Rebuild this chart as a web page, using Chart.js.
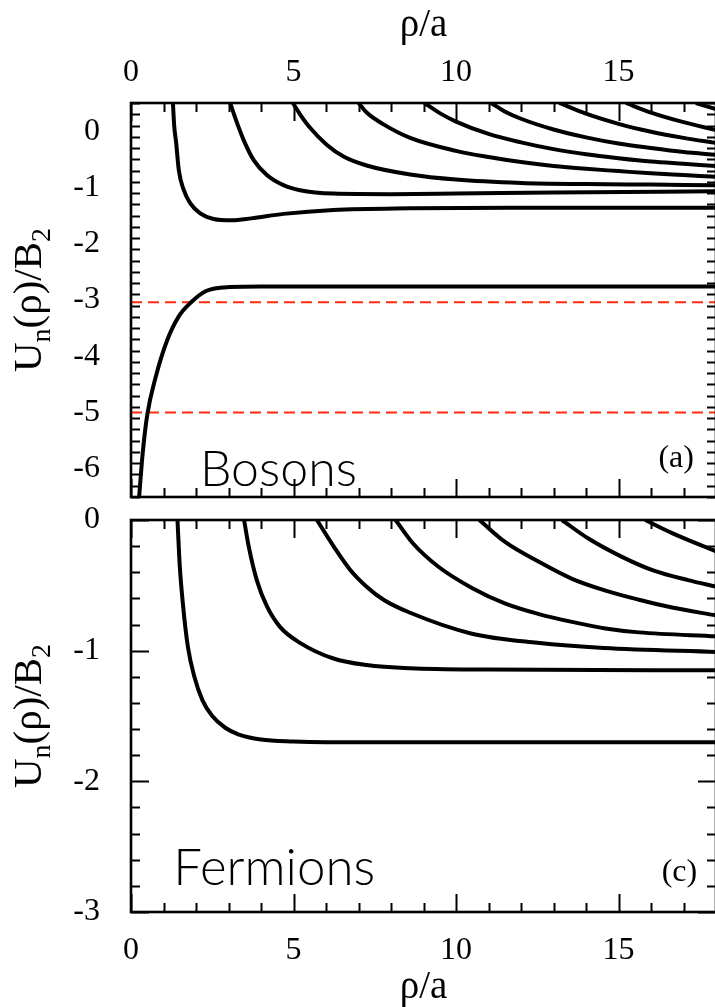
<!DOCTYPE html>
<html>
<head>
<meta charset="utf-8">
<script src="https://cdn.jsdelivr.net/npm/chart.js@4.4.0/dist/chart.umd.min.js"></script>
<style>
  html, body { margin: 0; padding: 0; background: #fff; overflow: hidden; width: 715px; height: 1007px; }
  #bosons { position: absolute; left: 0; top: 0; }
  #fermions { position: absolute; left: 0; top: 500px; }
</style>
</head>
<body>
<canvas id="bosons" width="720" height="520"></canvas>
<canvas id="fermions" width="720" height="507"></canvas>
<script>
// tick labels
var xTicks = [0, 5, 10, 15];
var bosonYTicks = [0, -1, -2, -3, -4, -5, -6];
var fermionYTicks = [0, -1, -2, -3];

// red dashed levels (bosons panel)
var bosonLevels = [-3.04, -5.0];

// bosons, [rho/a, U/B2]
var boson1 = [[0.25,-6.5],[0.36,-5.72],[0.5,-5.04],[0.75,-4.39],[1.11,-3.72],[1.47,-3.29],[1.85,-3.04],[2.31,-2.84],[3.03,-2.77],[4,-2.76],[18,-2.76]];
var boson2 = [[1.29,0.5],[1.33,0.09],[1.39,-0.21],[1.47,-0.69],[1.62,-1.04],[1.82,-1.28],[2.13,-1.46],[2.54,-1.56],[3.1,-1.585],[3.7,-1.55],[4.69,-1.47],[6.23,-1.4],[8.59,-1.37],[12,-1.36],[18,-1.36]];
var boson3 = [[3.05,0.5],[3.26,0.15],[3.46,-0.15],[3.77,-0.51],[4.18,-0.78],[4.69,-0.96],[5.2,-1.05],[6.23,-1.11],[8,-1.12],[10,-1.11],[13,-1.09],[18,-1.07]];
var boson4 = [[4.98,0.5],[5.2,0.3],[5.51,0.06],[6.02,-0.24],[6.54,-0.45],[7.25,-0.61],[8.59,-0.77],[10,-0.86],[12,-0.92],[14,-0.94],[16,-0.95],[18,-0.96]];
var boson5 = [[7.0,0.5],[7.25,0.33],[7.77,0.12],[8.59,-0.12],[10,-0.35],[11,-0.46],[12,-0.55],[13,-0.62],[14,-0.67],[15,-0.71],[16,-0.75],[17,-0.78],[18,-0.81]];
var boson6 = [[9.03,0.5],[9.5,0.32],[10,0.17],[11,-0.05],[12,-0.2],[13,-0.32],[14,-0.41],[15,-0.48],[16,-0.54],[17,-0.58],[18,-0.62]];
var boson7 = [[11.08,0.5],[11.5,0.35],[12,0.22],[13,0.03],[14,-0.11],[15,-0.22],[16,-0.3],[17,-0.37],[18,-0.42]];
var boson8 = [[13.18,0.5],[14,0.31],[15,0.13],[16,-0.01],[17,-0.12],[18,-0.21]];
var boson9 = [[15.23,0.5],[16,0.33],[17,0.16],[18,0.02]];
var boson10 = [[17.38,0.5],[18,0.39]];

// fermions
var fermion1 = [[1.43,0],[1.5,-0.35],[1.6,-0.65],[1.75,-0.97],[1.95,-1.2],[2.2,-1.38],[2.5,-1.5],[2.9,-1.59],[3.3,-1.64],[4,-1.68],[5,-1.695],[6,-1.7],[18,-1.7]];
var fermion2 = [[3.48,0],[3.62,-0.2],[3.87,-0.46],[4.18,-0.66],[4.59,-0.82],[5.2,-0.94],[6.23,-1.06],[7.25,-1.11],[8.59,-1.135],[11,-1.145],[18,-1.15]];
var fermion3 = [[5.72,0],[6.23,-0.2],[6.74,-0.38],[7.25,-0.51],[7.77,-0.61],[8.59,-0.71],[10.49,-0.87],[12.5,-0.94],[14.55,-0.98],[18,-1.01]];
var fermion4 = [[8.14,0],[8.68,-0.18],[9.47,-0.36],[10.49,-0.52],[11.52,-0.64],[12.55,-0.72],[13.57,-0.78],[14.6,-0.83],[15.63,-0.86],[18,-0.89]];
var fermion5 = [[10.72,0],[11.52,-0.17],[12.55,-0.32],[13.57,-0.45],[14.6,-0.54],[15.63,-0.61],[16.65,-0.67],[18,-0.73]];
var fermion6 = [[13.26,0],[14.06,-0.14],[15.09,-0.28],[16.11,-0.39],[17.14,-0.46],[18,-0.51]];
var fermion7 = [[15.82,0],[16.65,-0.1],[18,-0.24]];

var bosonCurves = [boson1, boson2, boson3, boson4, boson5, boson6, boson7, boson8, boson9, boson10];
var fermionCurves = [fermion1, fermion2, fermion3, fermion4, fermion5, fermion6, fermion7];

var serif = 'Liberation Serif, Times New Roman, serif';

function curveSet(pts) {
  return {
    data: pts.map(function(p) { return {x: p[0], y: p[1]}; }),
    borderColor: '#000', borderWidth: 4, cubicInterpolationMode: 'monotone',
    pointRadius: 0, fill: false, clip: 0
  };
}
function levelSet(v) {
  return {
    data: [{x: 0, y: v}, {x: 18, y: v}],
    borderColor: '#ff2a10', borderWidth: 2, borderDash: [11, 6],
    pointRadius: 0, fill: false, clip: 0
  };
}

// frame + inward major/minor ticks on all four sides
var framePlugin = {
  id: 'frame',
  afterDatasetsDraw: function(chart) {
    var a = chart.chartArea, ctx = chart.ctx, xs = chart.scales.x, ys = chart.scales.y;
    function seg(x1, y1, x2, y2) { ctx.beginPath(); ctx.moveTo(x1, y1); ctx.lineTo(x2, y2); ctx.stroke(); }
    ctx.save();
    ctx.strokeStyle = '#000';
    ctx.lineWidth = 2;
    var v, px, len;
    for (v = 0; v <= 18.001; v += 1) {
      px = Math.round(xs.getPixelForValue(v)) + 0.5;
      len = (Math.round(v) % 5 === 0) ? 18 : 9;
      seg(px, a.top, px, a.top + len);
      seg(px, a.bottom, px, a.bottom - len);
    }
    var n = Math.round((ys.max - ys.min) / 0.2);
    for (var i = 0; i <= n; i++) {
      v = ys.min + i * 0.2;
      px = Math.round(ys.getPixelForValue(v)) + 0.5;
      len = (Math.abs(v - Math.round(v)) < 1e-6) ? 18 : 9;
      seg(a.left, px, a.left + len, px);
      seg(a.right, px, a.right - len, px);
    }
    ctx.lineWidth = 2.6;
    ctx.strokeRect(a.left, a.top, a.right - a.left, a.bottom - a.top);
    ctx.restore();
  }
};

// panel labels and the rotated y title with subscripts
var textPlugin = {
  id: 'texts',
  afterDraw: function(chart, args, opts) {
    var ctx = chart.ctx, a = chart.chartArea, xs = chart.scales.x, ys = chart.scales.y;
    ctx.save();
    ctx.fillStyle = '#000';
    ctx.textBaseline = 'alphabetic';
    ctx.font = '300 ' + opts.nameSize + 'px Lato, "Open Sans", sans-serif';
    ctx.textAlign = 'left';
    ctx.fillText(opts.name, xs.getPixelForValue(opts.nameAt[0]), ys.getPixelForValue(opts.nameAt[1]));
    ctx.font = '32px ' + serif;
    ctx.textAlign = 'right';
    ctx.fillText(opts.tag, xs.getPixelForValue(opts.tagAt[0]), ys.getPixelForValue(opts.tagAt[1]));

    // y title
    var parts = [['U', 0], ['n', 1], ['(\u03c1)/B', 0], ['2', 1]];
    var big = '41px ' + serif, small = '28px ' + serif;
    var total = 0;
    parts.forEach(function(p) { ctx.font = p[1] ? small : big; total += ctx.measureText(p[0]).width; });
    ctx.translate(41, (a.top + a.bottom) / 2);
    ctx.rotate(-Math.PI / 2);
    ctx.textAlign = 'left';
    var x = -total / 2;
    parts.forEach(function(p) {
      ctx.font = p[1] ? small : big;
      ctx.fillText(p[0], x, p[1] ? 9 : 0);
      x += ctx.measureText(p[0]).width;
    });
    ctx.restore();
  }
};

function scalesFor(yMin, yMax, yTicks, xPos, xPad, xHeight) {
  return {
    x: {
      type: 'linear', position: xPos, min: 0, max: 18,
      afterBuildTicks: function(s) { s.ticks = xTicks.map(function(v) { return {value: v}; }); },
      afterFit: function(s) { s.height = xHeight; s.paddingLeft = 0; s.paddingRight = 0; s.paddingTop = 0; s.paddingBottom = 0; },
      grid: {display: false}, border: {display: false},
      ticks: {font: {family: serif, size: 32}, color: '#000', padding: xPad, maxRotation: 0,
              callback: function(v) { return String(v); }},
      title: {display: true, text: '\u03c1/a', color: '#000', font: {family: serif, size: 39},
              padding: xPos === 'top' ? {top: 2, bottom: 0} : {top: 0, bottom: -4}}
    },
    y: {
      type: 'linear', min: yMin, max: yMax,
      afterBuildTicks: function(s) { s.ticks = yTicks.map(function(v) { return {value: v}; }); },
      afterFit: function(s) { s.width = 131; s.paddingTop = 0; s.paddingBottom = 0; s.paddingLeft = 0; s.paddingRight = 0; },
      grid: {display: false}, border: {display: false},
      ticks: {font: {family: serif, size: 32}, color: '#000', padding: 23,
              callback: function(v) { return String(v); }}
    }
  };
}

var bosonSets = bosonCurves.map(curveSet).concat(bosonLevels.map(levelSet));
var fermionSets = fermionCurves.map(curveSet);

new Chart(document.getElementById('bosons'), {
  type: 'line',
  data: {datasets: bosonSets},
  options: {
    responsive: false, animation: false, events: [],
    layout: {padding: {left: 0, right: 4, top: 0, bottom: 23}},
    plugins: {legend: {display: false}, tooltip: {enabled: false},
              texts: {name: 'Bosons', nameSize: 50, nameAt: [2.12, -6.3], tag: '(a)', tagAt: [17.32, -5.975]}},
    scales: scalesFor(-6.5, 0.5, bosonYTicks, 'top', 3, 103)
  },
  plugins: [framePlugin, textPlugin]
});

new Chart(document.getElementById('fermions'), {
  type: 'line',
  data: {datasets: fermionSets},
  options: {
    responsive: false, animation: false, events: [],
    layout: {padding: {left: 0, right: 4, top: 20, bottom: 0}},
    plugins: {legend: {display: false}, tooltip: {enabled: false},
              texts: {name: 'Fermions', nameSize: 51, nameAt: [1.3, -2.79], tag: '(c)', tagAt: [17.42, -2.763]}},
    scales: scalesFor(-3, 0, fermionYTicks, 'bottom', 11, 95)
  },
  plugins: [framePlugin, textPlugin]
});
</script>
</body>
</html>
